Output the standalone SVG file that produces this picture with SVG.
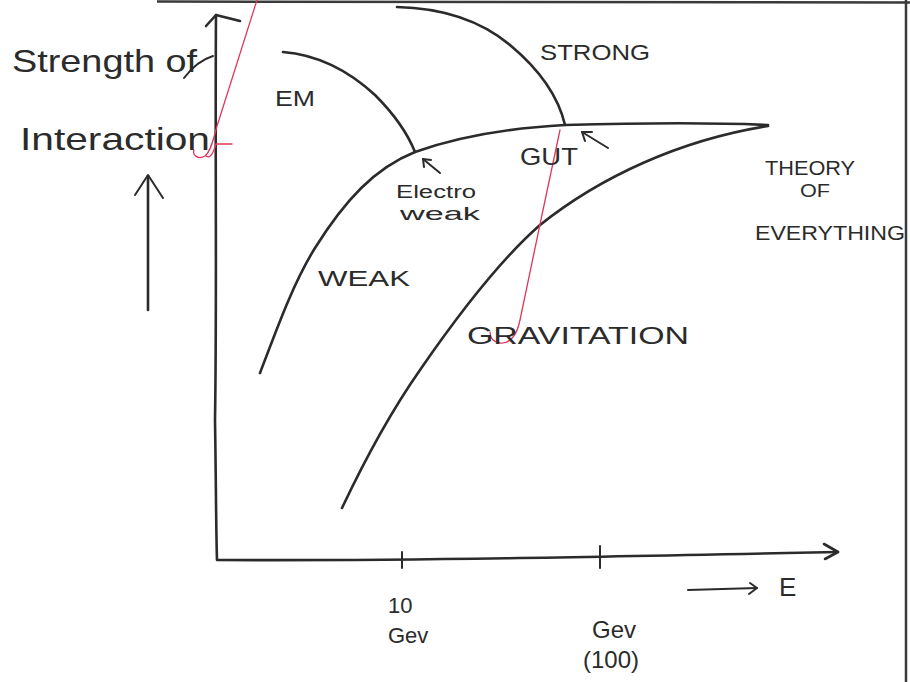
<svg xmlns="http://www.w3.org/2000/svg" width="910" height="682" viewBox="0 0 910 682">
<style>
.ink{fill:none;stroke:#2b2b2b;stroke-width:2.6;stroke-linecap:round;stroke-linejoin:round}
.thin{fill:none;stroke:#2b2b2b;stroke-width:2;stroke-linecap:round;stroke-linejoin:round}
.red{fill:none;stroke:#e0385a;stroke-width:1.3;stroke-linecap:round;stroke-linejoin:round}
.border{fill:none;stroke:#3a3a3a;stroke-width:2.5}
text{font-family:"Liberation Sans","DejaVu Sans",sans-serif;fill:#2b2b2b}
</style>
<rect width="910" height="682" fill="#ffffff"/>
<g id="border">
<path class="border" d="M157,1.5 L910,2.5"/>
<path class="border" d="M906,0 L906,682"/>
</g>
<g id="axes">
<path class="ink" d="M216,15 C215,150 217,300 215,420 C216,480 216,530 217,560 C400,561 600,557 838,552"/>
<path class="ink" d="M206,26 L216,15 L240,21"/>
<path class="ink" d="M824,544 L838,552 L825,559"/>
<path class="thin" d="M402,552 L402,568"/>
<path class="thin" d="M600,546 L600,568"/>
<path class="ink" d="M148,310 L148,176"/>
<path class="thin" d="M135,195 L148,175 L163,198"/>
<path class="thin" d="M688,590 L757,588"/>
<path class="thin" d="M750,583 L757,588 L749,594"/>
<path class="thin" d="M184,78 C190,70 200,60 213,56"/>
</g>
<g id="curves">
<path id="em" class="ink" d="M283,52 C320,55 350,72 375,95 C395,115 407,132 415,152"/>
<path id="strong" class="ink" d="M397,7 C440,8 480,20 510,45 C540,70 558,95 565,125"/>
<path id="weak" class="ink" d="M260,373 C280,320 295,280 315,248 C345,200 375,168 415,152 C460,136 510,128 565,125 C640,123 700,122 768,125"/>
<path id="gravitation" class="ink" d="M342,508 C360,470 385,420 420,370 C460,312 500,260 540,225 C600,177 680,140 768,126"/>
<path class="thin" d="M582,132 L608,148"/>
<path class="thin" d="M582,132 L592,132 M582,132 L585,141"/>
<path class="thin" d="M423,159 L440,173"/>
<path class="thin" d="M423,159 L431,160 M423,159 L424,167"/>
</g>
<g id="red-marks">
<path class="red" d="M257,0 L218,123 C214,135 212,150 205,156 C198,160 192,155 194,150"/>
<path class="red" d="M206,156 C211,160 214,150 216,144 L232,144"/>
<path class="red" d="M560,130 L543,210 L520,320 C517,335 510,344 500,343 C493,342 490,338 490,332"/>
</g>
<g id="labels">
<text x="12" y="72" font-size="32" textLength="185" lengthAdjust="spacingAndGlyphs">Strength of</text>
<text x="20" y="150" font-size="32" textLength="190" lengthAdjust="spacingAndGlyphs">Interaction</text>
<text x="275" y="106" font-size="22" textLength="40" lengthAdjust="spacingAndGlyphs">EM</text>
<text x="540" y="60" font-size="22" textLength="110" lengthAdjust="spacingAndGlyphs">STRONG</text>
<text x="520" y="165" font-size="24" textLength="58" lengthAdjust="spacingAndGlyphs">GUT</text>
<text x="396" y="198" font-size="18" textLength="80" lengthAdjust="spacingAndGlyphs">Electro</text>
<text x="400" y="220" font-size="18" textLength="80" lengthAdjust="spacingAndGlyphs">weak</text>
<text x="318" y="286" font-size="22" textLength="92" lengthAdjust="spacingAndGlyphs">WEAK</text>
<text x="467" y="344" font-size="24" textLength="222" lengthAdjust="spacingAndGlyphs">GRAVITATION</text>
<text x="765" y="175" font-size="20" textLength="90" lengthAdjust="spacingAndGlyphs">THEORY</text>
<text x="800" y="197" font-size="18" textLength="30" lengthAdjust="spacingAndGlyphs">OF</text>
<text x="755" y="240" font-size="20" textLength="150" lengthAdjust="spacingAndGlyphs">EVERYTHING</text>
<text x="388" y="613" font-size="22">10</text>
<text x="388" y="643" font-size="22">Gev</text>
<text x="592" y="638" font-size="24">Gev</text>
<text x="583" y="668" font-size="24">(100)</text>
<text x="779" y="596" font-size="26">E</text>
</g>
</svg>
